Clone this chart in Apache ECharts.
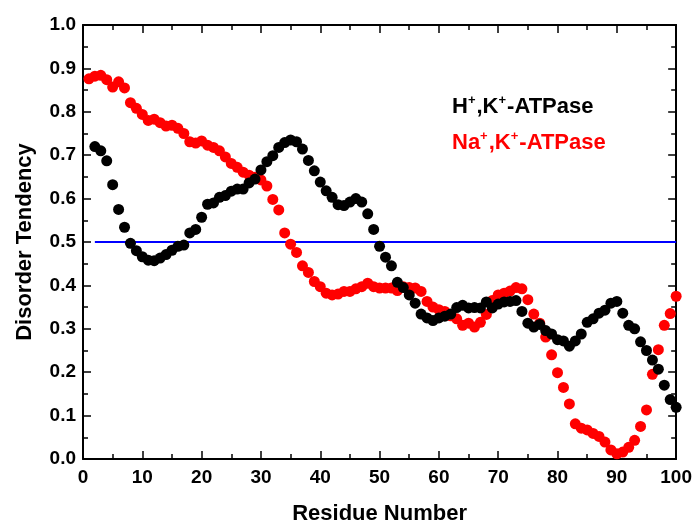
<!DOCTYPE html>
<html>
<head>
<meta charset="utf-8">
<script src="https://cdn.jsdelivr.net/npm/echarts@6/dist/echarts.min.js"></script>
<style>
	html, body { margin: 0; padding: 0; background: #ffffff; }
	#chart { width: 695px; height: 530px; }
</style>
</head>
<body>
<div id="chart"></div>
<script>

// H+,K+-ATPase, residues 2 .. 100
var hkFirstResidue = 2;
var hkValues = [
	0.720, 0.710, 0.687, 0.632, 0.575, 0.534, 0.497, 0.480, 0.466,
	0.458, 0.457, 0.463, 0.471, 0.481, 0.490, 0.493, 0.521, 0.529, 0.557,
	0.587, 0.590, 0.603, 0.607, 0.617, 0.622, 0.622, 0.636, 0.645, 0.666,
	0.685, 0.699, 0.718, 0.729, 0.735, 0.731, 0.714, 0.688, 0.664, 0.638,
	0.618, 0.603, 0.586, 0.584, 0.592, 0.600, 0.592, 0.565, 0.529, 0.490,
	0.465, 0.445, 0.407, 0.395, 0.378, 0.359, 0.334, 0.325, 0.319, 0.325,
	0.329, 0.334, 0.349, 0.354, 0.348, 0.349, 0.348, 0.362, 0.348, 0.357,
	0.362, 0.363, 0.365, 0.340, 0.313, 0.304, 0.310, 0.296, 0.288, 0.275,
	0.272, 0.260, 0.272, 0.288, 0.315, 0.323, 0.336, 0.343, 0.359, 0.363,
	0.336, 0.308, 0.300, 0.270, 0.250, 0.228, 0.207, 0.170, 0.137, 0.119
];

// Na+,K+-ATPase, residues 1 .. 100
var naFirstResidue = 1;
var naValues = [
	0.876, 0.882, 0.884, 0.874, 0.857, 0.869, 0.855, 0.821, 0.808, 0.794,
	0.780, 0.783, 0.775, 0.767, 0.769, 0.762, 0.750, 0.731, 0.728, 0.733,
	0.723, 0.718, 0.710, 0.696, 0.681, 0.672, 0.661, 0.654, 0.649, 0.643,
	0.629, 0.598, 0.574, 0.521, 0.495, 0.476, 0.445, 0.430, 0.409, 0.397,
	0.382, 0.378, 0.380, 0.386, 0.386, 0.392, 0.397, 0.405, 0.397, 0.394,
	0.394, 0.394, 0.388, 0.397, 0.395, 0.394, 0.386, 0.363, 0.350, 0.344,
	0.340, 0.330, 0.323, 0.308, 0.313, 0.304, 0.315, 0.333, 0.365, 0.378,
	0.382, 0.387, 0.395, 0.392, 0.367, 0.334, 0.313, 0.281, 0.240, 0.199,
	0.165, 0.127, 0.081, 0.071, 0.067, 0.059, 0.052, 0.039, 0.021, 0.012,
	0.016, 0.027, 0.043, 0.075, 0.113, 0.195, 0.252, 0.308, 0.335, 0.375
];

// threshold line
var thresholdValue = 0.5;
var thresholdRange = [2, 100];

var legendLabels = ['H', 'K', 'Na'];
var xAxisName = 'Residue Number';
var yAxisName = 'Disorder Tendency';

/** turns a list of values into [residue, value] pairs */
function toPoints(pFirst, pValues) {
	var result = [];
	for (var i = 0; i < pValues.length; i++) {
		result.push([pFirst + i, pValues[i]]);
	}
	return result;
}

var fontName = 'Liberation Sans, Arial, sans-serif';

/** a frame axis: line + inner ticks, optionally labels */
function frameAxis(pBase, pShowLabels) {
	return Object.assign({
		axisLine: { show: true, onZero: false, lineStyle: { color: '#000', width: 2 } },
		axisTick: { show: true, inside: true, length: 8, lineStyle: { color: '#000', width: 1.5 } },
		minorTick: { show: true, splitNumber: 2, length: 5, lineStyle: { color: '#000', width: 1.5 } },
		splitLine: { show: false },
		axisLabel: { show: pShowLabels, color: '#000', fontSize: 19, fontWeight: 'bold', fontFamily: fontName }
	}, pBase);
}

var chart = echarts.init(document.getElementById('chart'));

var xBottom = frameAxis({ type: 'value', position: 'bottom', min: 0, max: 100, interval: 10,
	name: xAxisName, nameLocation: 'middle', nameGap: 44,
	nameTextStyle: { color: '#000', fontSize: 22, fontWeight: 'bold', fontFamily: fontName } }, true);
xBottom.axisLabel.margin = 9;
var xTop = frameAxis({ type: 'value', position: 'top', min: 0, max: 100, interval: 10 }, false);
var yLeft = frameAxis({ type: 'value', position: 'left', min: 0, max: 1, interval: 0.1,
	name: yAxisName, nameLocation: 'middle', nameGap: 47,
	nameTextStyle: { color: '#000', fontSize: 22, fontWeight: 'bold', fontFamily: fontName } }, true);
yLeft.axisLabel.margin = 7;
yLeft.axisLabel.formatter = function (v) { return v.toFixed(1); };
var yRight = frameAxis({ type: 'value', position: 'right', min: 0, max: 1, interval: 0.1 }, false);

var richLegend = function (pColor) {
	return {
		b: { fill: pColor, fontSize: 22, fontWeight: 'bold', fontFamily: fontName, lineHeight: 26 },
		s: { fill: pColor, fontSize: 13, fontWeight: 'bold', fontFamily: fontName, lineHeight: 26, verticalAlign: 'top', padding: [0, 1, 0, 0] }
	};
};

chart.setOption({
	animation: false,
	backgroundColor: '#ffffff',
	grid: { left: 83, right: 18, top: 25, bottom: 68, containLabel: false },
	xAxis: [xBottom, xTop],
	yAxis: [yLeft, yRight],
	series: [
		{
			type: 'line',
			data: [[thresholdRange[0], thresholdValue], [thresholdRange[1], thresholdValue]],
			symbol: 'none',
			lineStyle: { color: '#0000ff', width: 2 },
			z: 1
		},
		{
			type: 'scatter',
			data: toPoints(naFirstResidue, naValues),
			symbolSize: 11,
			itemStyle: { color: '#ff0000', opacity: 1 },
			z: 2
		},
		{
			type: 'scatter',
			data: toPoints(hkFirstResidue, hkValues),
			symbolSize: 11,
			itemStyle: { color: '#000000', opacity: 1 },
			z: 3
		}
	],
	graphic: [
		{
			type: 'text', left: 452, top: 94,
			style: {
				text: '{b|' + legendLabels[0] + '}{s|+}{b|,' + legendLabels[1] + '}{s|+}{b|-ATPase}',
				rich: richLegend('#000000')
			}
		},
		{
			type: 'text', left: 452, top: 130,
			style: {
				text: '{b|' + legendLabels[2] + '}{s|+}{b|,' + legendLabels[1] + '}{s|+}{b|-ATPase}',
				rich: richLegend('#ff0000')
			}
		}
	]
});
</script>
</body>
</html>
